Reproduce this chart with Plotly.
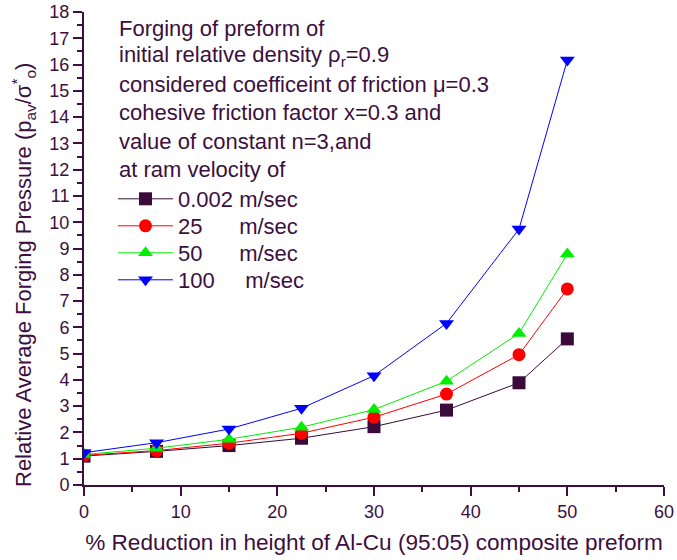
import plotly.graph_objects as go

reduction = [0, 7.5, 15, 22.5, 30, 37.5, 45, 50]
p_0002 = [1.10, 1.28, 1.50, 1.78, 2.22, 2.85, 3.89, 5.56]
p_25 = [1.13, 1.31, 1.59, 1.97, 2.58, 3.46, 4.96, 7.46]
p_50 = [1.16, 1.40, 1.74, 2.20, 2.87, 3.95, 5.77, 8.79]
p_100 = [1.23, 1.61, 2.13, 2.92, 4.16, 6.15, 9.74, 16.17]

series_names = ["0.002\u00a0m/sec", "25\u00a0\u00a0\u00a0\u00a0\u00a0\u00a0m/sec",
                "50\u00a0\u00a0\u00a0\u00a0\u00a0\u00a0m/sec", "100\u00a0\u00a0\u00a0\u00a0\u00a0m/sec"]
series_vals = [p_0002, p_25, p_50, p_100]
colors = ["#3a0a3a", "#ff0000", "#00ee00", "#0000ff"]
symbols = ["square", "circle", "triangle-up", "triangle-down"]

header_lines = [
    "Forging of preform of",
    "initial relative density ρ<sub>r</sub>=0.9",
    "considered coefficeint of friction μ=0.3",
    "cohesive friction factor x=0.3 and",
    "value of constant n=3,and",
    "at ram velocity of",
]
y_title = "Relative Average Forging Pressure (p<sub>av</sub>/σ<sup>*</sup><sub>o</sub>)"
x_title = "% Reduction in height of Al-Cu (95:05) composite preform"

txt = "#3c0f40"
FONT = "Liberation Sans, Arial, sans-serif"
PLOT_H = 473
PLOT_W = 580

fig = go.Figure()
legend_ids = ["legend", "legend2", "legend3", "legend4"]
for name, vals, c, s, lg in zip(series_names, series_vals, colors, symbols, legend_ids):
    fig.add_trace(go.Scatter(
        x=reduction, y=vals, name=name, mode="lines+markers",
        line=dict(color=c, width=1),
        marker=dict(symbol=s, size=13, color=c),
        legend=lg,
    ))

for i, line in enumerate(header_lines):
    fig.add_annotation(
        text=line, xref="paper", yref="paper", x=0.057, y=(PLOT_H - 16 - i * 28.3) / PLOT_H,
        xanchor="left", yanchor="middle", showarrow=False,
        font=dict(family=FONT, size=22, color=txt),
    )

fig.add_annotation(
    text=y_title, xref="paper", yref="paper", x=(23 - 84) / PLOT_W, y=(485 - 275) / PLOT_H,
    xanchor="center", yanchor="middle", textangle=-90, showarrow=False,
    font=dict(family=FONT, size=22, color=txt),
)

legend_layout = {}
for i, lg in enumerate(legend_ids):
    legend_layout[lg] = dict(
        x=0.05, y=(PLOT_H - 187 - i * 27) / PLOT_H, xanchor="left", yanchor="middle",
        font=dict(family=FONT, size=22, color=txt),
        bgcolor="rgba(0,0,0,0)", itemwidth=55,
    )

fig.update_layout(
    width=677, height=560,
    margin=dict(l=84, r=13, t=12, b=75),
    paper_bgcolor="white", plot_bgcolor="white",
    font=dict(family=FONT, color=txt),
    showlegend=True,
    **legend_layout,
    xaxis=dict(
        range=[0, 60], tick0=0, dtick=10, showgrid=False, zeroline=False,
        showline=True, linecolor=txt, linewidth=2, automargin=False,
        ticks="outside", ticklen=9, tickwidth=2, tickcolor=txt,
        minor=dict(ticks="outside", dtick=5, ticklen=5, tickwidth=2, tickcolor=txt),
        tickfont=dict(family=FONT, size=18, color=txt), ticklabeloverflow="allow",
        title=dict(text=x_title, font=dict(family=FONT, size=22.6, color=txt), standoff=14),
    ),
    yaxis=dict(
        range=[0, 18], tick0=0, dtick=1, showgrid=False, zeroline=False,
        showline=True, linecolor=txt, linewidth=2, automargin=False,
        ticks="outside", ticklen=9, tickwidth=2, tickcolor=txt,
        minor=dict(ticks="outside", dtick=0.5, ticklen=5, tickwidth=2, tickcolor=txt),
        tickfont=dict(family=FONT, size=18, color=txt), ticklabeloverflow="allow",
    ),
)

fig.write_html("out.html", config={"displayModeBar": False},
               post_script="document.body.style.margin='0';")
